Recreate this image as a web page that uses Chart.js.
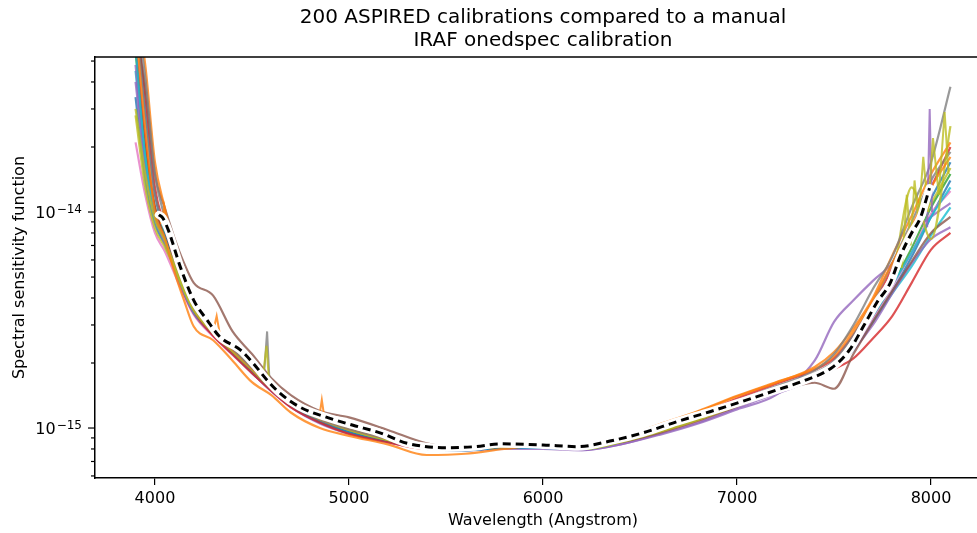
<!DOCTYPE html>
<html lang="en">
<head>
  <meta charset="UTF-8">
  <title>ASPIRED calibrations</title>
  <script src="https://cdn.jsdelivr.net/npm/chart.js"></script>
  <style>
    body {
      background: #fff;
      margin: 0;
      padding: 0;
      overflow: hidden;
    }
  </style>
</head>
<body>
  <canvas id="chart" width="1086" height="533"></canvas>

  <script>
    // wavelength grid (Angstrom) shared by the calibration curves
    const wave = [3900, 3950, 4000, 4050, 4100, 4150, 4200, 4300, 4400, 4500, 4600, 4700, 4850, 5000, 5200, 5400,
      5600, 5800, 6000, 6200, 6400, 6600, 6800, 7000, 7200, 7400, 7500, 7600, 7700, 7800, 7900, 8000, 8100];

    // sensitivity values, in units of 1e-15
    const blue1   = [34, 14, 8.8, 7.1, 5.5, 4.3, 3.45, 2.7, 2.22, 1.82, 1.5, 1.27, 1.07, 0.96, 0.87, 0.8, 0.79, 0.81, 0.81, 0.8, 0.86, 0.96, 1.1, 1.28, 1.48, 1.72, 1.9, 2.3, 3.1, 4.3, 6.2, 9.5, 14];
    const orange1 = [95, 48, 17, 10.5, 6.6, 4.8, 3.7, 2.8, 2.3, 1.88, 1.55, 1.3, 1.1, 0.99, 0.89, 0.82, 0.81, 0.83, 0.84, 0.83, 0.9, 1.03, 1.19, 1.4, 1.62, 1.92, 2.25, 2.9, 4.0, 6.3, 9.6, 15, 21];
    const green1  = [55, 20, 10.5, 7.8, 5.8, 4.4, 3.5, 2.74, 2.25, 1.84, 1.52, 1.28, 1.08, 0.97, 0.88, 0.81, 0.8, 0.82, 0.82, 0.81, 0.87, 0.97, 1.1, 1.29, 1.5, 1.74, 1.96, 2.45, 3.3, 4.6, 6.8, 10.5, 15];
    const red1    = [80, 35, 13, 8.6, 6.0, 4.5, 3.5, 2.68, 2.2, 1.8, 1.49, 1.25, 1.06, 0.94, 0.86, 0.8, 0.8, 0.82, 0.82, 0.82, 0.88, 1.0, 1.16, 1.37, 1.6, 1.86, 2.1, 2.7, 3.7, 5.5, 8.3, 13, 20];
    const purple1 = [48, 17, 9.6, 7.3, 5.5, 4.2, 3.4, 2.68, 2.2, 1.8, 1.49, 1.26, 1.06, 0.95, 0.86, 0.8, 0.79, 0.81, 0.81, 0.79, 0.84, 0.94, 1.06, 1.24, 1.44, 1.68, 1.88, 2.3, 3.0, 4.2, 5.8, 7.5, 8.5];
    const brown1  = [70, 38, 15, 10.5, 7.6, 5.8, 4.7, 4.1, 2.8, 2.2, 1.7, 1.42, 1.2, 1.12, 0.98, 0.85, 0.81, 0.82, 0.82, 0.81, 0.86, 0.95, 1.08, 1.26, 1.46, 1.62, 1.52, 2.2, 3.1, 4.3, 5.9, 8.0, 9.5];
    const pink1   = [21, 12, 8.0, 6.6, 5.2, 4.1, 3.35, 2.65, 2.18, 1.8, 1.48, 1.25, 1.06, 0.95, 0.86, 0.8, 0.79, 0.81, 0.81, 0.8, 0.85, 0.95, 1.08, 1.27, 1.47, 1.72, 1.93, 2.35, 3.2, 4.5, 6.5, 9.8, 12.5];
    const gray1   = [80, 28, 12, 8.6, 6.3, 4.6, 3.6, 2.78, 2.28, 1.87, 1.53, 1.29, 1.09, 0.98, 0.89, 0.81, 0.8, 0.82, 0.82, 0.81, 0.87, 0.98, 1.12, 1.32, 1.54, 1.8, 2.05, 2.7, 3.8, 5.8, 9.0, 14, 19];
    const olive1  = [30, 15, 9.3, 7.4, 5.7, 4.4, 3.55, 2.78, 2.3, 1.9, 1.55, 1.3, 1.1, 0.98, 0.88, 0.81, 0.8, 0.82, 0.82, 0.8, 0.86, 0.96, 1.1, 1.28, 1.48, 1.74, 1.95, 2.5, 3.5, 5.2, 8.5, 11, 16];
    const cyan1   = [58, 18, 9.8, 7.5, 5.6, 4.3, 3.45, 2.72, 2.22, 1.82, 1.5, 1.27, 1.07, 0.96, 0.87, 0.8, 0.79, 0.81, 0.81, 0.8, 0.86, 0.96, 1.1, 1.28, 1.48, 1.72, 1.93, 2.4, 3.3, 4.6, 6.5, 9.5, 13];
    const orange2 = [75, 24, 10, 7.6, 5.3, 3.9, 2.95, 2.55, 2.05, 1.63, 1.42, 1.18, 1.0, 0.92, 0.84, 0.75, 0.76, 0.8, 0.83, 0.83, 0.9, 1.04, 1.2, 1.41, 1.63, 1.88, 2.15, 2.8, 3.9, 5.8, 8.6, 13, 18];
    const gray2   = [90, 42, 15, 9.5, 6.8, 5.0, 3.85, 2.85, 2.32, 1.9, 1.55, 1.3, 1.1, 0.99, 0.89, 0.82, 0.81, 0.83, 0.83, 0.82, 0.88, 0.99, 1.14, 1.34, 1.56, 1.85, 2.2, 3.0, 4.4, 6.2, 10.5, 17, 38];
    const purple2 = [40, 16, 9.4, 7.2, 5.5, 4.2, 3.4, 2.7, 2.2, 1.8, 1.48, 1.25, 1.05, 0.94, 0.86, 0.8, 0.79, 0.8, 0.8, 0.79, 0.84, 0.93, 1.05, 1.22, 1.42, 2.05, 3.1, 3.9, 4.8, 5.8, 8.0, 9.5, 11];
    const red2    = [60, 22, 10.5, 7.6, 5.6, 4.2, 3.4, 2.68, 2.2, 1.8, 1.49, 1.26, 1.06, 0.95, 0.87, 0.8, 0.8, 0.82, 0.82, 0.82, 0.87, 0.98, 1.13, 1.32, 1.52, 1.72, 1.88, 2.1, 2.6, 3.3, 4.7, 6.7, 8.0];
    const olive2  = [28, 13, 8.4, 6.9, 5.5, 4.3, 3.5, 2.75, 2.26, 1.86, 1.53, 1.29, 1.1, 0.98, 0.88, 0.81, 0.8, 0.82, 0.82, 0.8, 0.86, 0.96, 1.09, 1.27, 1.46, 1.7, 1.9, 2.4, 3.4, 5.0, 13, 7.5, 25];
    const blue2   = [90, 30, 12, 8.2, 6.0, 4.4, 3.5, 2.75, 2.25, 1.84, 1.51, 1.27, 1.07, 0.96, 0.87, 0.8, 0.79, 0.81, 0.81, 0.8, 0.86, 0.96, 1.1, 1.29, 1.5, 1.75, 1.98, 2.5, 3.5, 5.1, 7.5, 11.5, 17];
    const cyan2   = [45, 17, 9.4, 7.3, 5.6, 4.3, 3.45, 2.7, 2.22, 1.82, 1.5, 1.27, 1.07, 0.96, 0.87, 0.8, 0.79, 0.81, 0.81, 0.8, 0.86, 0.96, 1.09, 1.27, 1.46, 1.7, 1.9, 2.3, 3.1, 4.2, 5.6, 7.8, 10.5];

    // narrow spikes on a few curves (wavelength, value in 1e-15)
    const spikeGrayX = [4560, 4578, 4592];
    const spikeGrayY = [1.66, 2.8, 1.54];
    const spikeOliveX = [4555, 4575, 4590];
    const spikeOliveY = [1.68, 2.4, 1.55];
    const spikeOrangeX = [4845, 4860, 4875];
    const spikeOrangeY = [1.1, 1.35, 1.09];
    const spikeOrange2X = [4300, 4318, 4335];
    const spikeOrange2Y = [2.8, 3.3, 2.7];
    const spikeOrange3X = [4030, 4048, 4062];
    const spikeOrange3Y = [8.8, 10.5, 7.8];
    const spikePurpleX = [7980, 7993, 8005];
    const spikePurpleY = [8.5, 30, 10];
    const spikeYellowX = [7850, 7875, 7895, 7915, 7935, 7960, 7985, 8010, 8040, 8070, 8090];
    const spikeYellowY = [5.5, 12, 7, 14, 9, 18, 10, 22, 12, 29, 15];

    // manual IRAF onedspec calibration
    const irafWave = [4020, 4040, 4070, 4130, 4200, 4270, 4335, 4440, 4505, 4577, 4644, 4747, 4887, 5021, 5160, 5300,
      5505, 5650, 5780, 6000, 6180, 6345, 6515, 6690, 6860, 7030, 7205, 7325, 7495, 7580, 7650, 7720, 7790, 7840, 7900, 7945, 7992];
    const irafVal = [9.7, 9.4, 8.2, 5.6, 3.9, 3.15, 2.64, 2.3, 2.0, 1.67, 1.45, 1.25, 1.12, 1.03, 0.95, 0.85,
      0.81, 0.82, 0.845, 0.835, 0.82, 0.87, 0.95, 1.07, 1.19, 1.33, 1.5, 1.63, 1.92, 2.3, 2.94, 3.8, 4.7, 6.2, 8.0, 9.4, 12.9];

    const xTicks = [4000, 5000, 6000, 7000, 8000];
    const yTicks = [6e-16, 7e-16, 8e-16, 9e-16, 1e-15, 2e-15, 3e-15, 4e-15, 5e-15, 6e-15, 7e-15, 8e-15, 9e-15,
      1e-14, 2e-14, 3e-14, 4e-14, 5e-14];

    const UNIT = 1e-15;
    const tab = {
      blue: 'rgba(31,119,180,0.8)', orange: 'rgba(255,127,14,0.8)', green: 'rgba(44,160,44,0.8)',
      red: 'rgba(214,39,40,0.8)', purple: 'rgba(148,103,189,0.8)', brown: 'rgba(140,86,75,0.8)',
      pink: 'rgba(227,119,194,0.8)', gray: 'rgba(127,127,127,0.8)', olive: 'rgba(188,189,34,0.8)',
      cyan: 'rgba(23,190,207,0.8)'
    };

    function pts(xs, ys) {
      return xs.map((x, i) => ({ x: x, y: ys[i] * UNIT }));
    }

    function curve(vals, color) {
      return {
        data: pts(wave, vals),
        borderColor: color,
        borderWidth: 2.2,
        pointRadius: 0,
        cubicInterpolationMode: 'monotone',
        fill: false
      };
    }

    function spike(xs, ys, color) {
      return { data: pts(xs, ys), borderColor: color, borderWidth: 2, pointRadius: 0, fill: false };
    }

    // listed bottom to top; Chart.js paints the first dataset on top, so reverse it
    const datasets = [
      curve(blue1, tab.blue), curve(cyan2, tab.cyan), curve(green1, tab.green), curve(purple1, tab.purple),
      curve(pink1, tab.pink), curve(red2, tab.red), curve(purple2, tab.purple), curve(cyan1, tab.cyan),
      curve(blue2, tab.blue), curve(red1, tab.red), curve(olive1, tab.olive), curve(brown1, tab.brown),
      curve(gray1, tab.gray), curve(olive2, tab.olive), curve(orange1, tab.orange), curve(orange2, tab.orange),
      curve(gray2, tab.gray),
      spike(spikeGrayX, spikeGrayY, tab.gray), spike(spikeOliveX, spikeOliveY, tab.olive),
      spike(spikeOrangeX, spikeOrangeY, tab.orange), spike(spikeOrange2X, spikeOrange2Y, tab.orange),
      spike(spikeOrange3X, spikeOrange3Y, tab.orange),
      spike(spikePurpleX, spikePurpleY, tab.purple), spike(spikeYellowX, spikeYellowY, tab.olive),
      {
        data: pts(irafWave, irafVal), borderColor: '#fff', borderWidth: 8, pointRadius: 0,
        cubicInterpolationMode: 'monotone', borderCapStyle: 'round'
      },
      {
        data: pts(irafWave, irafVal), borderColor: '#000', borderWidth: 3, pointRadius: 0,
        borderDash: [8, 5], cubicInterpolationMode: 'monotone'
      }
    ].reverse();

    // top spine, log ticks and 10^n labels, matplotlib style
    const frame = {
      id: 'frame',
      afterDraw(chart) {
        const ctx = chart.ctx;
        const a = chart.chartArea;
        const y = chart.scales.y;
        ctx.save();
        ctx.strokeStyle = '#000';
        ctx.fillStyle = '#000';
        ctx.lineWidth = 1.5;
        ctx.beginPath();
        ctx.moveTo(a.left, a.top);
        ctx.lineTo(a.right, a.top);
        ctx.stroke();
        ctx.lineWidth = 1.2;
        ctx.textBaseline = 'alphabetic';
        y.ticks.forEach(t => {
          const py = y.getPixelForValue(t.value);
          const lg = Math.log10(t.value);
          const major = Math.abs(lg - Math.round(lg)) < 1e-9;
          const len = major ? 7 : 4;
          ctx.beginPath();
          ctx.moveTo(a.left - len, py);
          ctx.lineTo(a.left, py);
          ctx.stroke();
          if (major) {
            const sup = '\u2212' + String(-Math.round(lg));
            ctx.font = "12px 'DejaVu Sans'";
            const wSup = ctx.measureText(sup).width;
            ctx.textAlign = 'right';
            ctx.fillText(sup, a.left - 13, py + 1);
            ctx.font = "16px 'DejaVu Sans'";
            ctx.fillText('10', a.left - 14 - wSup, py + 6);
          }
        });
        ctx.restore();
      }
    };

    Chart.defaults.font.family = "'DejaVu Sans', sans-serif";
    Chart.defaults.color = '#000';

    new Chart(document.getElementById('chart').getContext('2d'), {
      type: 'line',
      data: { datasets: datasets },
      options: {
        responsive: false,
        animation: false,
        layout: { padding: 0 },
        plugins: {
          legend: { display: false },
          tooltip: { enabled: false },
          title: {
            display: true,
            text: ['200 ASPIRED calibrations compared to a manual', 'IRAF onedspec calibration'],
            font: { size: 20, weight: 'normal', lineHeight: 1.15 },
            color: '#000',
            padding: { top: 6, bottom: 5 }
          }
        },
        scales: {
          x: {
            type: 'linear',
            min: 3691,
            max: 8309,
            afterBuildTicks: s => { s.ticks = xTicks.map(v => ({ value: v })); },
            afterFit: s => { s.height = 55; },
            grid: { drawOnChartArea: false, drawTicks: true, tickLength: 7, color: '#000', lineWidth: 1.2 },
            border: { display: true, color: '#000', width: 1.5 },
            ticks: { font: { size: 16 }, padding: 4, maxRotation: 0, autoSkip: false, callback: v => String(v) },
            title: { display: true, text: 'Wavelength (Angstrom)', font: { size: 16 }, padding: { top: 0, bottom: 3 } }
          },
          y: {
            type: 'logarithmic',
            min: 5.87e-16,
            max: 5.22e-14,
            afterBuildTicks: s => { s.ticks = yTicks.map(v => ({ value: v })); },
            afterFit: s => { s.width = 95; },
            grid: { display: false, drawTicks: false },
            border: { display: true, color: '#000', width: 1.5 },
            ticks: { font: { size: 16 }, padding: 10, autoSkip: false, callback: () => '' },
            title: { display: true, text: 'Spectral sensitivity function', font: { size: 16 }, padding: { top: 10, bottom: 0 } }
          },
          // empty right-hand box so the axes sit centred on the full figure
          pad: {
            type: 'linear',
            position: 'right',
            afterFit: s => { s.width = 95; },
            grid: { display: false, drawTicks: false },
            border: { display: false },
            ticks: { display: false }
          }
        }
      },
      plugins: [frame]
    });
  </script>
</body>
</html>
